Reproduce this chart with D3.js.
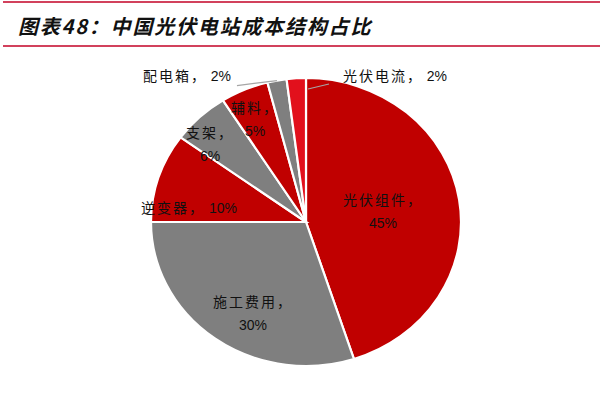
<!DOCTYPE html>
<html><head><meta charset="utf-8">
<script src="https://cdn.jsdelivr.net/npm/d3@7"></script>
<style>
html,body{margin:0;padding:0;background:#fff;}
svg{display:block;}
</style></head>
<body>
<svg id="c" width="600" height="400"></svg>
<script>
// ---- data ----
const categories = ["光伏组件","施工费用","逆变器","支架","辅料","配电箱","光伏电流"];
const values = [45, 30, 10, 6, 5, 2, 2];
const colors = ["#C00000","#7F7F7F","#C00000","#7F7F7F","#C00000","#7F7F7F","#E2101C"];
const titleText = "图表48：中国光伏电站成本结构占比";

// ---- layout ----
const cx = 306, cy = 222, rx = 155, ry = 144;
const labelLayout = [
  {x:383, y:205, two:true},
  {x:253, y:307, two:true},
  {x:189, y:213, two:false},
  {x:210, y:138, two:true},
  {x:255, y:113, two:true},
  {x:187, y:81,  two:false},
  {x:395, y:81,  two:false}
];

const svg = d3.select("#c");
const data = categories.map((c,i)=>({name:c, value:values[i], color:colors[i]}));

// title lines
svg.append("line").attr("x1",3).attr("x2",600).attr("y1",2).attr("y2",2)
  .attr("stroke","#D2415C").attr("stroke-width",2);
svg.append("line").attr("x1",3).attr("x2",600).attr("y1",46).attr("y2",46)
  .attr("stroke","#D2415C").attr("stroke-width",2);
svg.append("text").attr("x",18).attr("y",34)
  .attr("font-family","'Noto Sans CJK SC', sans-serif")
  .attr("font-weight","bold").attr("font-style","italic")
  .attr("font-size",20).attr("letter-spacing",1.8).attr("fill","#111")
  .text(titleText);

const pie = d3.pie().value(d=>d.value).sort(null).startAngle(0).endAngle(2*Math.PI);
const arcs = pie(data);
const arc = d3.arc().innerRadius(0).outerRadius(rx);

const g = svg.append("g").attr("transform",`translate(${cx},${cy}) scale(1,${ry/rx})`);
g.selectAll("path").data(arcs).join("path")
  .attr("d",arc).attr("fill",d=>d.data.color)
  .attr("stroke","#fff").attr("stroke-width",2.2)
  .attr("vector-effect","non-scaling-stroke");

// leader lines for small slices
function edgePoint(d){
  const a=(d.startAngle+d.endAngle)/2;
  return [cx+rx*Math.sin(a), cy-ry*Math.cos(a)];
}
const p5 = edgePoint(arcs[5]);
svg.append("polyline").attr("points",`${p5[0]},${p5[1]} ${p5[0]-40},${p5[1]+5}`)
  .attr("fill","none").attr("stroke","#A6A6A6").attr("stroke-width",1.2);
svg.append("polyline").attr("points",`${cx+2},${cy-133} ${cx+23},${cy-138}`)
  .attr("fill","none").attr("stroke","#A6A6A6").attr("stroke-width",1.2);

// labels
const fontCJK = "'Noto Sans CJK SC', 'Noto Sans', sans-serif";
const labels = svg.append("g").attr("font-size",14).attr("fill","#111")
  .attr("text-anchor","middle");
arcs.forEach((d,i)=>{
  const L = labelLayout[i];
  const t = labels.append("text").attr("x",L.x).attr("y",L.y);
  if(L.two){
    t.append("tspan").attr("x",L.x).attr("font-family",fontCJK).attr("letter-spacing",2)
      .text(d.data.name+"，");
    t.append("tspan").attr("x",L.x).attr("dy",23).attr("font-family","'Liberation Sans', Arial, sans-serif")
      .text(d.data.value+"%");
  } else {
    t.append("tspan").attr("font-family",fontCJK).attr("letter-spacing",2)
      .text(d.data.name+"，");
    t.append("tspan").attr("font-family","'Liberation Sans', Arial, sans-serif")
      .text(" "+d.data.value+"%");
  }
});
</script>
</body></html>
